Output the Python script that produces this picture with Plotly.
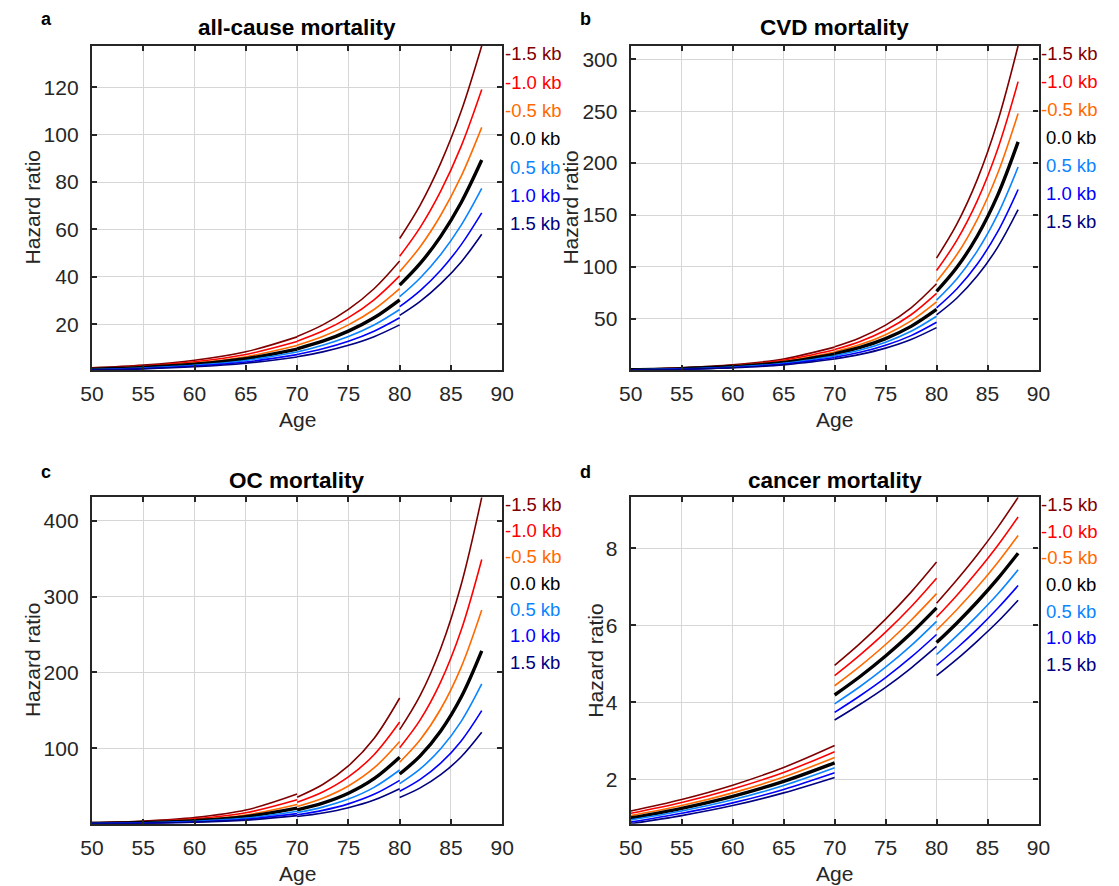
import plotly.graph_objects as go

W, H = 1119, 886

# ---------------- data ----------------
age_seg1 = [50, 55, 60, 65, 70]
age_seg2 = [70, 72.5, 75, 77.5, 80]
age_seg3 = [80, 82, 84, 86, 88]

kb_labels = ["-1.5 kb", "-1.0 kb", "-0.5 kb", "0.0 kb", "0.5 kb", "1.0 kb", "1.5 kb"]
kb_colors = ["#800000", "#FF0000", "#FF6A00", "#000000", "#0A84FF", "#0000FF", "#000080"]

panel_titles = ["all-cause mortality", "CVD mortality", "OC mortality", "cancer mortality"]
panel_letters = ["a", "b", "c", "d"]

# all-cause mortality (15 values: seg1 | seg2 | seg3)
ac_m15 = [1.54, 2.70, 4.75, 8.34, 14.64, 14.79, 19.72, 26.27, 34.98, 46.7, 56.2, 70.3, 88.0, 110.0, 137.6]
ac_m10 = [1.33, 2.33, 4.11, 7.22, 12.67, 12.81, 17.08, 22.74, 30.3, 40.4, 48.7, 60.9, 76.2, 95.2, 119.1]
ac_m05 = [1.16, 2.02, 3.56, 6.25, 10.97, 11.09, 14.78, 19.69, 26.2, 35.0, 42.2, 52.7, 66.0, 82.5, 103.1]
ac_000 = [1.00, 1.75, 3.08, 5.41, 9.50, 9.60, 12.8, 17.05, 22.7, 30.3, 36.5, 45.65, 57.1, 71.4, 89.3]
ac_p05 = [0.87, 1.52, 2.67, 4.69, 8.23, 8.31, 11.08, 14.77, 19.66, 26.2, 31.6, 39.5, 49.4, 61.8, 77.3]
ac_p10 = [0.75, 1.31, 2.31, 4.06, 7.13, 7.20, 9.6, 12.79, 17.03, 22.7, 27.4, 34.2, 42.8, 53.6, 67.0]
ac_p15 = [0.65, 1.14, 2.00, 3.51, 6.17, 6.23, 8.31, 11.07, 14.73, 19.7, 23.7, 29.6, 37.1, 46.3, 58.0]

# CVD mortality
cvd_m15 = [1.42, 2.84, 5.68, 11.36, 22.72, 23.0, 31.78, 43.9, 60.65, 83.8, 108.5, 141.4, 184.3, 240.3, 313.1]
cvd_m10 = [1.26, 2.53, 5.05, 10.10, 20.21, 20.46, 28.27, 39.05, 53.94, 74.5, 96.5, 125.8, 163.9, 213.7, 278.5]
cvd_m05 = [1.12, 2.25, 4.50, 8.99, 17.98, 18.21, 25.16, 34.75, 48.0, 66.3, 85.9, 111.9, 145.9, 190.2, 247.8]
cvd_000 = [1.00, 2.00, 4.00, 8.00, 16.0, 16.2, 22.38, 30.92, 42.71, 59.0, 76.4, 99.6, 129.8, 169.2, 220.5]
cvd_p05 = [0.89, 1.78, 3.56, 7.12, 14.24, 14.42, 19.92, 27.52, 38.01, 52.5, 68.0, 88.6, 115.5, 150.6, 196.2]
cvd_p10 = [0.79, 1.58, 3.17, 6.34, 12.67, 12.83, 17.72, 24.49, 33.83, 46.7, 60.5, 78.9, 102.8, 134.0, 174.6]
cvd_p15 = [0.70, 1.41, 2.82, 5.63, 11.26, 11.40, 15.76, 21.77, 30.07, 41.5, 53.8, 70.1, 91.4, 119.1, 155.2]

# OC mortality
oc_m15 = [1.89, 4.04, 8.64, 18.48, 39.61, 35.46, 52.17, 76.76, 112.9, 166.2, 124.5, 169.7, 231.6, 315.9, 430.8]
oc_m10 = [1.53, 3.27, 6.99, 14.96, 32.07, 28.71, 42.24, 62.15, 91.44, 134.5, 100.8, 137.4, 187.5, 255.8, 348.8]
oc_m05 = [1.24, 2.64, 5.66, 12.11, 25.95, 23.23, 34.18, 50.29, 74.0, 108.9, 81.6, 111.2, 151.7, 207.0, 282.2]
oc_000 = [1.00, 2.14, 4.58, 9.80, 21.0, 18.8, 27.66, 40.70, 59.88, 88.1, 66.0, 90.0, 122.8, 167.5, 228.4]
oc_p05 = [0.81, 1.73, 3.71, 7.93, 16.99, 15.21, 22.38, 32.93, 48.44, 71.3, 53.4, 72.8, 99.3, 135.5, 184.8]
oc_p10 = [0.66, 1.40, 3.00, 6.42, 13.76, 12.31, 18.12, 26.66, 39.22, 57.7, 43.2, 59.0, 80.4, 109.7, 149.6]
oc_p15 = [0.53, 1.13, 2.43, 5.19, 11.13, 9.96, 14.66, 21.57, 31.74, 46.7, 35.0, 47.7, 65.1, 88.8, 121.1]

# cancer mortality
ca_m15 = [1.18, 1.48, 1.85, 2.31, 2.88, 4.96, 5.53, 6.16, 6.86, 7.64, 6.57, 7.18, 7.83, 8.54, 9.32]
ca_m10 = [1.12, 1.40, 1.75, 2.18, 2.72, 4.69, 5.23, 5.82, 6.48, 7.22, 6.21, 6.78, 7.40, 8.07, 8.81]
ca_m05 = [1.06, 1.32, 1.65, 2.06, 2.57, 4.43, 4.94, 5.50, 6.13, 6.82, 5.87, 6.41, 6.99, 7.63, 8.33]
ca_000 = [1.00, 1.25, 1.56, 1.95, 2.43, 4.19, 4.67, 5.20, 5.79, 6.45, 5.55, 6.06, 6.61, 7.21, 7.87]
ca_p05 = [0.95, 1.18, 1.47, 1.84, 2.30, 3.96, 4.41, 4.91, 5.47, 6.10, 5.24, 5.73, 6.25, 6.81, 7.44]
ca_p10 = [0.89, 1.12, 1.39, 1.74, 2.17, 3.74, 4.17, 4.64, 5.17, 5.76, 4.96, 5.41, 5.90, 6.44, 7.03]
ca_p15 = [0.85, 1.06, 1.32, 1.65, 2.05, 3.54, 3.95, 4.39, 4.89, 5.45, 4.69, 5.12, 5.59, 6.09, 6.65]

x_ticks = [50, 55, 60, 65, 70, 75, 80, 85, 90]
y_ticks_ac = [20, 40, 60, 80, 100, 120]
y_ticks_cvd = [50, 100, 150, 200, 250, 300]
y_ticks_oc = [100, 200, 300, 400]
y_ticks_ca = [2, 4, 6, 8]

# ---------------- layout geometry (pixels) ----------------
FONT = "Arial, Liberation Sans, Helvetica, sans-serif"
TXT = "#262626"

panels = [
    dict(curves=[ac_m15, ac_m10, ac_m05, ac_000, ac_p05, ac_p10, ac_p15], yt=y_ticks_ac,
         box=(81.7, 501.0, 45.7, 370.0), lab_y0=54.0, lab_dy=28.3, ylab_x=21, title_y=28, letter=(35, 19)),
    dict(curves=[cvd_m15, cvd_m10, cvd_m05, cvd_000, cvd_p05, cvd_p10, cvd_p15], yt=y_ticks_cvd,
         box=(632.3, 1049.0, 45.7, 370.0), lab_y0=54.0, lab_dy=27.9, ylab_x=571, title_y=28, letter=(586, 19)),
    dict(curves=[oc_m15, oc_m10, oc_m05, oc_000, oc_p05, oc_p10, oc_p15], yt=y_ticks_oc,
         box=(81.7, 501.0, 497.3, 823.7), lab_y0=504.3, lab_dy=26.3, ylab_x=21, title_y=480, letter=(35, 472)),
    dict(curves=[ca_m15, ca_m10, ca_m05, ca_000, ca_p05, ca_p10, ca_p15], yt=y_ticks_ca,
         box=(632.3, 1049.0, 497.3, 823.7), lab_y0=504.3, lab_dy=26.7, ylab_x=596, title_y=480, letter=(586, 472)),
]


def pxx(x):
    return x / W


def pxy(y):
    return 1 - y / H


fig = go.Figure()
annotations = []
layout_axes = {}

for i, p in enumerate(panels):
    n = i + 1
    xa = "x" if n == 1 else f"x{n}"
    ya = "y" if n == 1 else f"y{n}"
    x0, x1, y0, y1 = p["box"]
    allv = []
    for k, curve in enumerate(p["curves"]):
        allv += curve
        for seg_ages, sl in ((age_seg1, slice(0, 5)), (age_seg2, slice(5, 10)), (age_seg3, slice(10, 15))):
            fig.add_trace(go.Scatter(
                x=seg_ages, y=curve[sl], mode="lines", xaxis=xa, yaxis=ya,
                line=dict(color=kb_colors[k], width=3.4 if k == 3 else 1.6, shape="spline", smoothing=1.0),
                showlegend=False, hoverinfo="skip"))
    ymin, ymax = min(allv), max(allv)

    layout_axes["xaxis" if n == 1 else f"xaxis{n}"] = dict(
        domain=[pxx(x0), pxx(x1)], anchor=ya, range=[50, 90], tickvals=x_ticks,
        ticks="inside", ticklen=5, tickwidth=1.5, tickcolor=TXT,
        showline=True, linecolor=TXT, linewidth=2.2, mirror="ticks",
        showgrid=True, gridcolor="#D6D6D6", gridwidth=1.4, zeroline=False,
        tickfont=dict(family=FONT, size=21, color=TXT), ticklabelstandoff=4)
    layout_axes["yaxis" if n == 1 else f"yaxis{n}"] = dict(
        domain=[pxy(y1), pxy(y0)], anchor=xa, range=[ymin, ymax], tickvals=p["yt"],
        ticks="inside", ticklen=5, tickwidth=1.5, tickcolor=TXT,
        showline=True, linecolor=TXT, linewidth=2.2, mirror="ticks",
        showgrid=True, gridcolor="#D6D6D6", gridwidth=1.4, zeroline=False,
        tickfont=dict(family=FONT, size=21, color=TXT), ticklabelstandoff=7)

    cx = (x0 + x1) / 2
    cy = (y0 + y1) / 2
    # title
    annotations.append(dict(x=pxx(cx), y=pxy(p["title_y"]), xref="paper", yref="paper",
                            text=f"<b>{panel_titles[i]}</b>", showarrow=False,
                            xanchor="center", yanchor="middle",
                            font=dict(family=FONT, size=22.5, color="black")))
    # panel letter
    lx, ly = p["letter"]
    annotations.append(dict(x=pxx(lx), y=pxy(ly), xref="paper", yref="paper",
                            text=f"<b>{panel_letters[i]}</b>", showarrow=False,
                            xanchor="center", yanchor="middle",
                            font=dict(family=FONT, size=18, color="black")))
    # axis titles
    annotations.append(dict(x=pxx(cx), y=pxy(y1 + 49.5), xref="paper", yref="paper",
                            text="Age", showarrow=False, xanchor="center", yanchor="middle",
                            font=dict(family=FONT, size=21, color=TXT)))
    annotations.append(dict(x=pxx(p["ylab_x"]), y=pxy(cy), xref="paper", yref="paper",
                            text="Hazard ratio", showarrow=False, textangle=-90,
                            xanchor="center", yanchor="middle",
                            font=dict(family=FONT, size=21, color=TXT)))
    # kb labels
    for k, lab in enumerate(kb_labels):
        lx0 = x1 + 1.7 if lab.startswith("-") else x1 + 7.0
        annotations.append(dict(x=pxx(lx0), y=pxy(p["lab_y0"] + k * p["lab_dy"]),
                                xref="paper", yref="paper", text=lab, showarrow=False,
                                xanchor="left", yanchor="middle", borderpad=0,
                                font=dict(family=FONT, size=18.5, color=kb_colors[k])))

fig.update_layout(
    width=W, height=H, margin=dict(l=0, r=0, t=0, b=0),
    paper_bgcolor="white", plot_bgcolor="white",
    annotations=annotations, **layout_axes)

fig.write_html("out.html")
